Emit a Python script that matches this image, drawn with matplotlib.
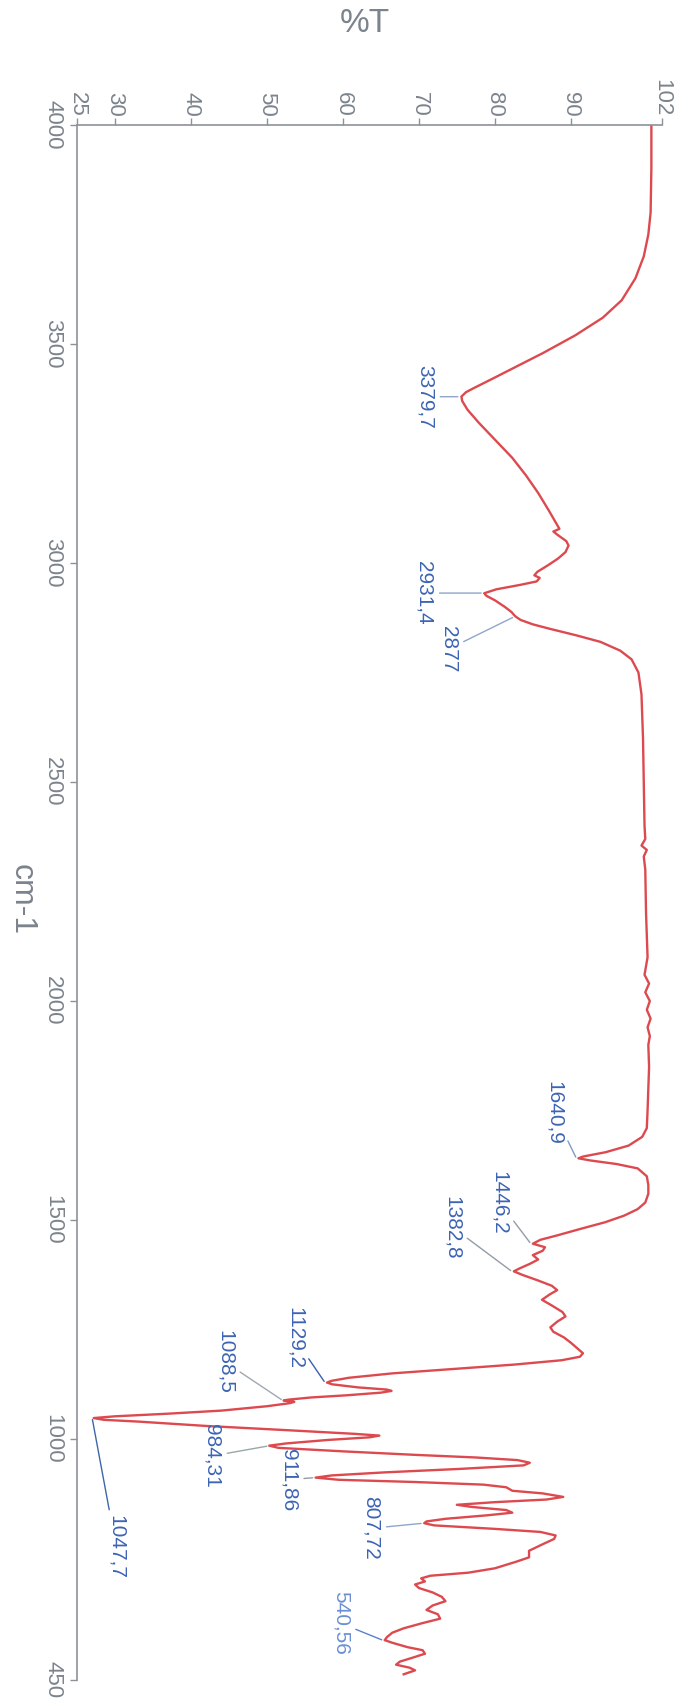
import numpy as np
import matplotlib
matplotlib.use("Agg")
import matplotlib.pyplot as plt

plt.rcParams['font.family'] = ['Liberation Sans', 'DejaVu Sans']

# ---- data ----
wavenumber = [4000, 3900, 3800, 3750, 3700, 3650, 3600, 3560, 3520, 3480, 3450, 3420, 3400, 3390,
              3380, 3370, 3350, 3320, 3280, 3240, 3200, 3160, 3120, 3090, 3078, 3072, 3065, 3050,
              3040, 3025, 3010, 2995, 2980, 2972, 2966, 2958, 2950, 2940, 2931, 2925, 2915, 2900,
              2888, 2880, 2877, 2870, 2860, 2850, 2835, 2820, 2800, 2780, 2750, 2700, 2600, 2500,
              2400, 2370, 2355, 2345, 2330, 2300, 2200, 2150, 2100, 2060, 2040, 2020, 2000, 1980,
              1960, 1940, 1920, 1900, 1850, 1800, 1750, 1710, 1690, 1670, 1655, 1645, 1641, 1636,
              1628, 1618, 1600, 1580, 1560, 1540, 1525, 1510, 1495, 1480, 1465, 1455, 1446, 1438,
              1430, 1420, 1410, 1400, 1390, 1383, 1375, 1362, 1350, 1340, 1330, 1318, 1305, 1290,
              1280, 1268, 1255, 1245, 1232, 1220, 1208, 1196, 1188, 1180, 1170, 1160, 1150, 1140,
              1133, 1129, 1125, 1118, 1113, 1110, 1106, 1100, 1095, 1090, 1088, 1085, 1082, 1075,
              1065, 1058, 1052, 1048, 1044, 1040, 1030, 1020, 1012, 1008, 1004, 998, 990, 985,
              980, 972, 964, 958, 952, 946, 940, 932, 924, 917, 912, 907, 902, 896, 890, 882, 876,
              868, 862, 856, 850, 845, 838, 832, 826, 818, 812, 808, 803, 795, 788, 780, 772, 760,
              745, 730, 720, 705, 695, 688, 682, 675, 668, 660, 650, 640, 630, 620, 610, 600, 590,
              580, 568, 558, 548, 541, 535, 525, 518, 510, 500, 492, 485, 478, 472, 466, 463]
transmittance = [100.6, 100.6, 100.5, 100.2, 99.6, 98.5, 96.7, 94.2, 90.6, 86.4, 83.0, 79.6, 77.3, 76.2,
                 75.6, 75.7, 76.4, 77.9, 80.1, 82.3, 84.1, 85.7, 87.1, 88.1, 88.5, 87.7, 88.2, 89.4,
                 89.7, 89.3, 88.3, 87.0, 85.6, 85.2, 85.9, 85.5, 83.3, 80.2, 78.6, 78.9, 80.0, 81.3,
                 82.2, 82.6, 82.8, 83.4, 85.0, 87.2, 90.7, 93.9, 96.5, 98.0, 98.9, 99.3, 99.5, 99.6,
                 99.7, 99.8, 99.3, 100.0, 99.6, 99.8, 99.9, 100.0, 100.1, 99.7, 100.3, 99.8, 100.4, 100.0,
                 100.5, 100.1, 100.4, 100.2, 100.3, 100.2, 100.1, 100.0, 99.4, 97.6, 94.6, 91.6, 91.0, 92.6,
                 96.0, 98.8, 100.0, 100.2, 100.2, 99.8, 98.8, 97.0, 94.5, 91.3, 88.2, 86.0, 85.0, 86.6,
                 86.3, 85.0, 85.7, 84.6, 83.3, 82.5, 83.6, 85.7, 87.5, 88.2, 87.2, 86.2, 87.5, 88.9,
                 89.3, 88.2, 87.3, 87.7, 89.1, 90.0, 90.8, 91.6, 91.2, 88.8, 82.5, 74.5, 66.5, 60.8,
                 58.5, 57.9, 58.6, 62.0, 65.8, 66.4, 65.0, 60.5, 55.8, 52.8, 52.2, 53.6, 53.0, 50.0,
                 44.0, 37.0, 30.0, 27.2, 28.5, 33.0, 42.0, 53.0, 61.5, 64.8, 63.5, 58.0, 52.5, 50.3,
                 51.5, 60.0, 69.5, 77.5, 83.0, 84.6, 83.8, 75.5, 65.5, 58.5, 56.4, 59.5, 69.5, 78.5, 81.5, 82.3, 86.3,
                 89.0, 86.8, 80.0, 75.0, 77.0, 81.5, 82.3, 79.0, 73.5, 71.0, 70.7, 72.0, 80.0, 86.0, 88.0, 87.8, 86.3,
                 84.5, 84.5, 82.8, 80.0, 76.5, 71.5, 70.3, 70.8, 69.5, 70.0, 71.8, 73.0, 73.5, 71.8, 71.0, 72.5, 72.8,
                 70.5, 68.0, 66.5, 65.8, 65.5, 66.5, 68.5, 70.5, 70.8, 69.0, 67.5, 67.0, 68.8, 69.5, 68.5, 68.0]

peak_wn = [3379.7, 2931.4, 2877, 1640.9, 1446.2, 1382.8, 1129.2, 1088.5, 1047.7, 984.31, 911.86, 807.72, 540.56]
peak_labels = ['3379,7', '2931,4', '2877', '1640,9', '1446,2', '1382,8', '1129,2', '1088,5',
               '1047,7', '984,31', '911,86', '807,72', '540,56']

t_ticks = [25, 30, 40, 50, 60, 70, 80, 90, 102]
wn_ticks = [4000, 3500, 3000, 2500, 2000, 1500, 1000, 450]

# ---- layout / style ----
label_offsets = [(-34, 0), (-58, 0), (-65, -32), (-22, 45), (-31, 41), (-59, 44), (-30, 44),
                 (-57, 38), (24, -129), (-56, -10), (-25, -2), (-51, -5), (-42, 17)]
leader_colors = ['#8fa6c8', '#8fa6c8', '#8fa6c8', '#7f9cc0', '#939ca6', '#939ca6', '#3a5fb0',
                 '#a0a8b0', '#3e66a8', '#98a8a8', '#939ca6', '#8fa6c8', '#5a80d0']
text_colors = ['#3c64b4'] * 12 + ['#6a8fd4']
axis_gray = '#8c9299'
label_gray = '#7b838c'

W, H = 683, 1707
fig = plt.figure(figsize=(W / 100, H / 100), dpi=100)
ax = fig.add_axes([77 / W, 1 - 1680 / H, (662 - 77) / W, (1680 - 125) / H])

wn = np.array(wavenumber, dtype=float)
tr = np.array(transmittance, dtype=float)
ax.plot(tr, wn, color='#dc4a4f', lw=1.7, solid_joinstyle='round')

ax.set_xlim(25, 102)
ax.set_ylim(450, 4000)

for s in ['right', 'bottom']:
    ax.spines[s].set_visible(False)
for s in ['left', 'top']:
    ax.spines[s].set_color(axis_gray)
    ax.spines[s].set_linewidth(1.2)

ax.xaxis.tick_top()
ax.set_xticks(t_ticks)
ax.set_xticklabels([str(t) for t in t_ticks])
ax.set_yticks(wn_ticks)
ax.set_yticklabels([str(w) for w in wn_ticks])
ax.tick_params(axis='x', which='major', direction='out', length=5, width=1.0, color=axis_gray,
               labelcolor=label_gray, labelsize=16, labelrotation=-90, pad=1)
ax.tick_params(axis='y', which='major', direction='out', length=5, width=1.0, color=axis_gray,
               labelcolor=label_gray, labelsize=16, labelrotation=-90, pad=5)
for lab in ax.get_yticklabels():
    lab.set_va('center')

fig.text(365 / W, 1 - 24 / H, '%T', ha='center', va='center', fontsize=24, color=label_gray)
fig.text(22 / W, 1 - 900 / H, 'cm-1', ha='center', va='center', fontsize=23, color=label_gray,
         rotation=-90)

# ---- peak annotations ----
order = np.argsort(wn)
for w, lab, (dx, dy), lc, tc in zip(peak_wn, peak_labels, label_offsets, leader_colors, text_colors):
    t_val = float(np.interp(w, wn[order], tr[order]))
    ax.annotate(lab, xy=(t_val - 0.3, w), xytext=(dx, dy), textcoords='offset pixels',
                rotation=-90, ha='center', va='center', fontsize=15, color=tc,
                arrowprops=dict(arrowstyle='-', color=lc, lw=1.0, shrinkA=2, shrinkB=1))

fig.savefig('out.png', dpi=100, facecolor='white')
